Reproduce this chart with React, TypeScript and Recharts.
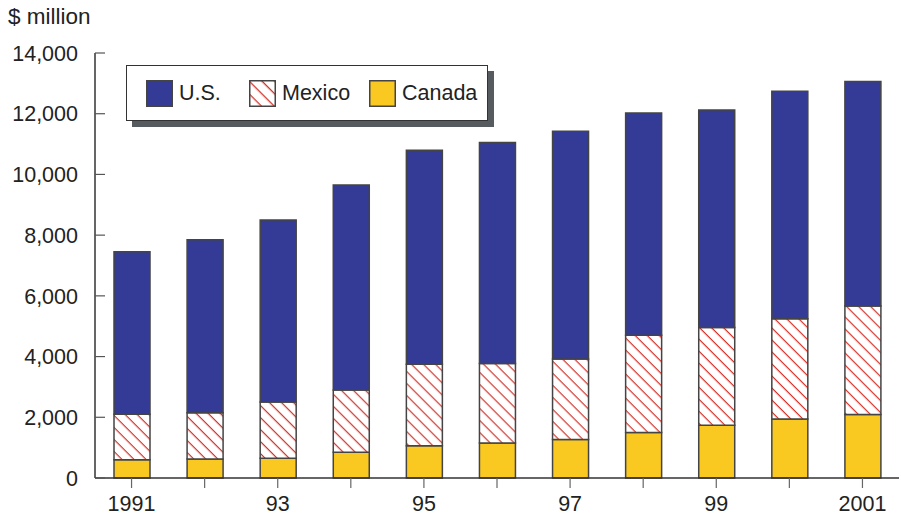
import React from 'react';
import { BarChart, Bar, XAxis, YAxis } from 'recharts';

const years = ['1991', '1992', '1993', '1994', '1995', '1996', '1997', '1998', '1999', '2000', '2001'];
const yearLabels = ['1991', '', '93', '', '95', '', '97', '', '99', '', '2001'];
const canada = [600, 630, 650, 850, 1060, 1150, 1270, 1500, 1740, 1940, 2090];
const mexico = [1500, 1520, 1850, 2050, 2690, 2620, 2650, 3200, 3220, 3310, 3580];
const us = [5350, 5700, 6000, 6750, 7050, 7280, 7500, 7320, 7160, 7490, 7390];
const yTicks = [0, 2000, 4000, 6000, 8000, 10000, 12000, 14000];

const series = [
  { key: 'us', name: 'U.S.', fill: '#333b96' },
  { key: 'mexico', name: 'Mexico', fill: 'url(#hatch)' },
  { key: 'canada', name: 'Canada', fill: '#f9c922' },
];

const data = years.map((year, i) => ({
  year,
  canada: canada[i],
  mexico: mexico[i],
  us: us[i],
}));

const FONT = '"Liberation Sans", Arial, Helvetica, sans-serif';
const TEXT = '#222';
const EDGE = '#444';

const YTick = (props: any) => {
  const { x, y, payload } = props;
  return (
    <g>
      <line x1={x + 17} x2={x + 27} y1={y} y2={y} stroke="#555" strokeWidth={1.2} />
      <text x={x} y={y} dy="0.36em" textAnchor="end" fontSize={21.5} fontFamily={FONT} fill={TEXT}>
        {payload.value.toLocaleString('en-US')}
      </text>
    </g>
  );
};

const Swatch = ({ fill }: { fill: string }) => (
  <svg width={27} height={27} style={{ display: 'block' }}>
    <defs>
      <pattern id="hatchLegend" patternUnits="userSpaceOnUse" width={9} height={9} patternTransform="rotate(45)">
        <rect width={9} height={9} fill="#fff" />
        <line x1={0} y1={0} x2={9} y2={0} stroke="#d2342c" strokeWidth={2.6} />
      </pattern>
    </defs>
    <rect x={0.75} y={0.75} width={25.5} height={25.5}
      fill={fill === 'url(#hatch)' ? 'url(#hatchLegend)' : fill} stroke={EDGE} strokeWidth={1.5} />
  </svg>
);

const legendWidths = [103, 120, 110];

export default function App() {
  return (
    <div style={{ position: 'absolute', left: 0, top: 0, width: 901, height: 519, fontFamily: FONT, background: '#fff' }}>
      <BarChart
        width={901}
        height={519}
        data={data}
        margin={{ top: 53, right: 2, bottom: 0, left: 0 }}
        barSize={36}
      >
        <defs>
          <pattern id="hatch" patternUnits="userSpaceOnUse" width={8.5} height={8.5} patternTransform="rotate(45)">
            <rect width={8.5} height={8.5} fill="#fff" />
            <line x1={0} y1={0} x2={8.5} y2={0} stroke="#d2342c" strokeWidth={2.4} />
          </pattern>
        </defs>
        <XAxis
          dataKey="year"
          interval={0}
          height={41}
          tickSize={10}
          tickMargin={8}
          tickFormatter={(v: string, i: number) => yearLabels[i]}
          tick={{ fontSize: 21.5, fontFamily: FONT, fill: TEXT }}
          tickLine={{ stroke: '#666', strokeWidth: 1.2 }}
          axisLine={{ stroke: '#333', strokeWidth: 1.5 }}
        />
        <XAxis xAxisId="top" dataKey="year" orientation="top" height={0} tick={false} tickLine={false}
          axisLine={{ stroke: '#444', strokeWidth: 1.2 }} />
        <YAxis
          domain={[0, 14000]}
          ticks={yTicks}
          width={95}
          tickSize={0}
          tickMargin={17}
          tick={<YTick />}
          axisLine={{ stroke: '#333', strokeWidth: 1.5 }}
        />
        <YAxis yAxisId="right" orientation="right" width={0} domain={[0, 14000]} tick={false} tickLine={false}
          axisLine={{ stroke: '#555', strokeWidth: 1.2 }} />
        <Bar dataKey="canada" stackId="a" fill="#f9c922" stroke={EDGE} strokeWidth={1.5} isAnimationActive={false} />
        <Bar dataKey="mexico" stackId="a" fill="url(#hatch)" stroke={EDGE} strokeWidth={1.5} isAnimationActive={false} />
        <Bar dataKey="us" stackId="a" fill="#333b96" stroke={EDGE} strokeWidth={1.5} isAnimationActive={false} />
      </BarChart>

      <div style={{ position: 'absolute', left: 8, top: 6, fontSize: 22.5, lineHeight: '22px', color: TEXT }}>
        $ million
      </div>

      <div
        style={{
          position: 'absolute',
          left: 126,
          top: 65,
          width: 341,
          height: 54,
          border: '1.5px solid #333',
          background: '#fff',
          boxShadow: '6px 6px 0 #555b5e',
          display: 'flex',
          alignItems: 'center',
          paddingLeft: 19,
          boxSizing: 'content-box',
        }}
      >
        {series.map((s, i) => (
          <div key={s.key} style={{ display: 'flex', alignItems: 'center', width: legendWidths[i], flexShrink: 0 }}>
            <Swatch fill={s.fill} />
            <span style={{ marginLeft: 6, fontSize: 21.5, color: TEXT, whiteSpace: 'nowrap' }}>{s.name}</span>
          </div>
        ))}
      </div>
    </div>
  );
}
